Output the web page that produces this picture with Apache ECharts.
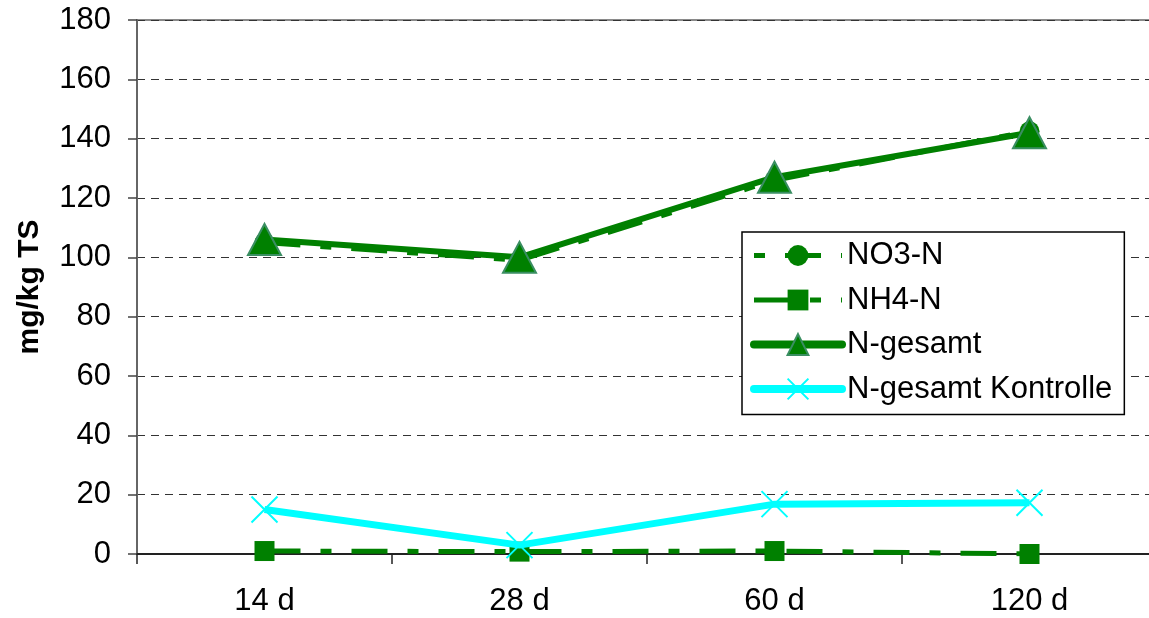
<!DOCTYPE html>
<html>
<head>
<meta charset="utf-8">
<script src="https://cdn.jsdelivr.net/npm/echarts@6/dist/echarts.min.js"></script>
<style>
html,body{margin:0;padding:0;background:#fff;}
#c{width:1149px;height:618px;}
</style>
</head>
<body>
<div id="c"></div>
<script>
const categories = ['14 d', '28 d', '60 d', '120 d'];
const no3N = [105, 99, 126, 142.5];
const nh4N = [1, 0.8, 1, 0];
const nGesamt = [106, 100, 127, 142];
const nGesamtKontrolle = [15, 3, 16.8, 17.3];
const yTicks = { min: 0, max: 180, interval: 20 };

const font = 'Arial, "Liberation Sans", sans-serif';
const green = '#008000';
const cyan = '#00FFFF';
const dash = [36, 20, 11, 20];

const chart = echarts.init(document.getElementById('c'), null, { renderer: 'canvas' });
chart.setOption({
  animation: false,
  backgroundColor: '#fff',
  grid: {
    left: 137, top: 20, bottom: 64, width: 1020,
    containLabel: false,
    outerBoundsMode: 'none',
    show: true, borderColor: '#8a8a8a', borderWidth: 2, backgroundColor: 'transparent'
  },
  legend: {
    orient: 'vertical',
    left: 742, top: 232,
    padding: [8, 12, 10, 8],
    itemWidth: 88, itemHeight: 26, itemGap: 13.5,
    backgroundColor: '#fff',
    borderColor: '#000', borderWidth: 1.5,
    textStyle: { fontFamily: font, fontSize: 31, color: '#000' },
    data: [
      { name: 'NO3-N', lineStyle: { width: 5, type: dash, dashOffset: 56 } },
      { name: 'NH4-N', lineStyle: { width: 5, type: dash, dashOffset: 0 } },
      { name: 'N-gesamt', lineStyle: { width: 8, cap: 'round' } },
      { name: 'N-gesamt Kontrolle', lineStyle: { width: 8, cap: 'round' } }
    ]
  },
  xAxis: {
    type: 'category',
    data: categories,
    boundaryGap: true,
    axisLine: { lineStyle: { color: '#222', width: 2 } },
    axisTick: { show: true, length: 10, lineStyle: { color: '#222', width: 1.5 } },
    axisLabel: { fontFamily: font, fontSize: 31, color: '#000', margin: 32 },
    splitLine: { show: false }
  },
  yAxis: {
    type: 'value',
    min: yTicks.min, max: yTicks.max, interval: yTicks.interval,
    name: 'mg/kg TS',
    nameLocation: 'middle',
    nameGap: 92,
    nameRotate: 90,
    nameTextStyle: { fontFamily: font, fontSize: 30, fontWeight: 'bold', color: '#000' },
    axisLine: { show: true, lineStyle: { color: '#666', width: 2 } },
    axisTick: { show: true, inside: false, length: 9, lineStyle: { color: '#444', width: 1.5 } },
    axisLabel: { fontFamily: font, fontSize: 31, color: '#000', margin: 26 },
    splitLine: { show: true, lineStyle: { color: '#333', type: [8, 6], width: 1 } }
  },
  series: [
    {
      name: 'NO3-N', type: 'line', data: no3N,
      symbol: 'circle', symbolSize: 20,
      itemStyle: { color: green },
      lineStyle: { color: green, width: 5, type: dash },
      z: 2
    },
    {
      name: 'NH4-N', type: 'line', data: nh4N,
      symbol: 'rect', symbolSize: 20,
      itemStyle: { color: green },
      lineStyle: { color: green, width: 5, type: dash },
      z: 3
    },
    {
      name: 'N-gesamt', type: 'line', data: nGesamt,
      symbol: 'triangle', symbolSize: [33, 31],
      itemStyle: { color: green, borderColor: '#3a8e62', borderWidth: 2 },
      lineStyle: { color: green, width: 6 },
      z: 4
    },
    {
      name: 'N-gesamt Kontrolle', type: 'line', data: nGesamtKontrolle,
      symbol: 'path://M0,0L10,10M10,0L0,10', symbolSize: 26,
      itemStyle: { color: cyan, borderColor: cyan, borderWidth: 2 },
      lineStyle: { color: cyan, width: 7 },
      z: 5
    }
  ]
});
</script>
</body>
</html>
